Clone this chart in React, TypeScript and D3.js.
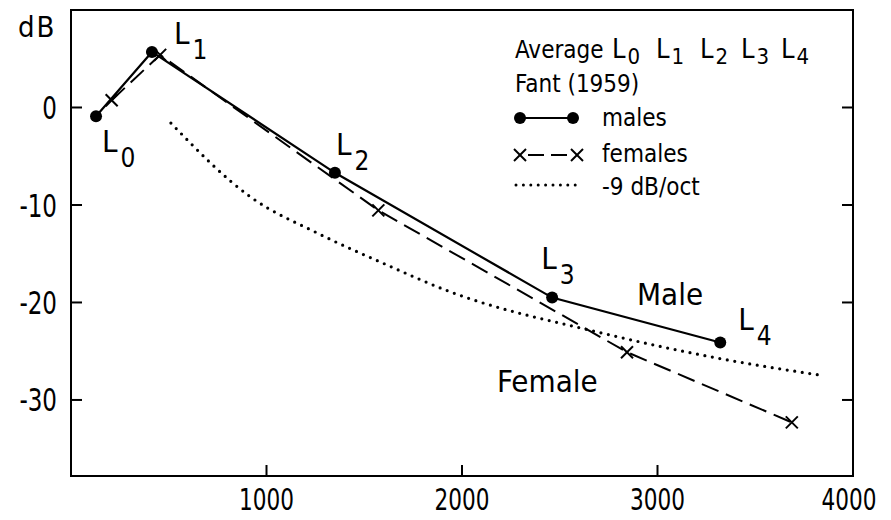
import React from "react";
import * as d3 from "d3";

// ---- data ----
const maleFreq = [128, 414, 1350, 2461, 3321];
const maleDb = [-0.9, 5.7, -6.7, -19.5, -24.1];
const femaleFreq = [208, 456, 1572, 2844, 3687];
const femaleDb = [0.75, 5.4, -10.55, -25.1, -32.3];
const slopeFreq = [511, 920, 1262, 1599, 1926, 2708, 3305, 3847];
const slopeDb = [-1.6, -9.2, -12.9, -16.0, -18.8, -23.1, -25.7, -27.5];
const levelNames = ["0", "1", "2", "3", "4"];
const xTicks = [1000, 2000, 3000, 4000];
const yTicks = [0, -10, -20, -30];

const W = 891;
const H = 520;
const L = 71, R = 853, T = 10, B = 476;

const TEXT_FONT = "'DejaVu Sans Condensed', 'DejaVu Sans', sans-serif";

// label offsets (px) relative to male points
const labelOffsets = [
  [6, 36],
  [22, -8],
  [1, -18],
  [-11, -29],
  [18, -12],
];

export default function App() {
  const x = d3.scaleLinear().domain([0, 4000]).range([L, R]);
  const y = d3.scaleLinear().domain([-37.8, 10]).range([B, T]);

  const male = maleFreq.map((f, i) => [x(f), y(maleDb[i])] as [number, number]);
  const female = femaleFreq.map((f, i) => [x(f), y(femaleDb[i])] as [number, number]);
  const slope = slopeFreq.map((f, i) => [x(f), y(slopeDb[i])] as [number, number]);

  const line = d3.line();
  const curve = d3.line().curve(d3.curveMonotoneX);

  const tick = 11;
  const cross = (cx: number, cy: number, k: string) => (
    <g key={k} stroke="#000" strokeWidth={2}>
      <line x1={cx - 6} y1={cy - 6} x2={cx + 6} y2={cy + 6} />
      <line x1={cx - 6} y1={cy + 6} x2={cx + 6} y2={cy - 6} />
    </g>
  );

  const legendX = 515;
  const legendLX = [612, 656, 700, 741, 781];

  return (
    <svg
      width={W}
      height={H}
      style={{ position: "absolute", left: 0, top: 0, background: "#fff" }}
      fontFamily={TEXT_FONT}
    >
      {/* frame */}
      <rect x={L} y={T} width={R - L} height={B - T} fill="none" stroke="#000" strokeWidth={2} />

      {/* y ticks left and right */}
      {yTicks.map((v) => (
        <g key={"yt" + v} stroke="#000" strokeWidth={2}>
          <line x1={L} x2={L + tick} y1={y(v)} y2={y(v)} />
          <line x1={R} x2={R - tick} y1={y(v)} y2={y(v)} />
        </g>
      ))}
      {yTicks.map((v) => (
        <text
          key={"yl" + v}
          transform={`translate(${L - 14},${y(v)}) scale(0.8,1)`}
          dy="0.36em"
          textAnchor="end"
          fontSize={32}
        >
          {v === 0 ? "0" : "-" + Math.abs(v)}
        </text>
      ))}
      {/* x ticks */}
      {xTicks
        .filter((v) => v < 4000)
        .map((v) => (
          <line key={"xt" + v} x1={x(v)} x2={x(v)} y1={B} y2={B - tick} stroke="#000" strokeWidth={2} />
        ))}
      {xTicks.map((v) => (
        <text
          key={"xl" + v}
          transform={`translate(${v === 4000 ? x(v) - 4 : x(v)},510) scale(0.8,1)`}
          textAnchor="middle"
          fontSize={30}
        >
          {v}
        </text>
      ))}
      <text x={18} y={37} fontSize={29} letterSpacing={2}>
        dB
      </text>

      {/* -9 dB/oct dotted curve */}
      <path
        d={curve(slope) || ""}
        fill="none"
        stroke="#000"
        strokeWidth={3.2}
        strokeLinecap="round"
        strokeDasharray="0 7.6"
      />

      {/* females dashed */}
      <path d={line(female) || ""} fill="none" stroke="#000" strokeWidth={2} strokeDasharray="18 8" />
      {female.map((p, i) => cross(p[0], p[1], "fx" + i))}

      {/* males solid */}
      <path d={line(male) || ""} fill="none" stroke="#000" strokeWidth={2.2} />
      {male.map((p, i) => (
        <circle key={"m" + i} cx={p[0]} cy={p[1]} r={6} fill="#000" />
      ))}

      {/* L labels */}
      {male.map((p, i) => (
        <text key={"lab" + i} x={p[0] + labelOffsets[i][0]} y={p[1] + labelOffsets[i][1]} fontSize={31}>
          L
          <tspan dx={3} dy={15} fontSize={26}>
            {levelNames[i]}
          </tspan>
        </text>
      ))}

      <text x={637} y={305} fontSize={31}>
        Male
      </text>
      <text x={497} y={392} fontSize={31}>
        Female
      </text>

      {/* legend */}
      <text x={legendX} y={58} fontSize={24}>
        Average
      </text>
      {legendLX.map((lx, i) => (
        <text key={"lg" + i} x={lx} y={58} fontSize={27}>
          L
          <tspan dx={2} dy={6} fontSize={22}>
            {levelNames[i]}
          </tspan>
        </text>
      ))}
      <text x={legendX} y={92} fontSize={24}>
        Fant (1959)
      </text>

      <line x1={520} x2={573} y1={118} y2={118} stroke="#000" strokeWidth={2} />
      <circle cx={520} cy={118} r={6} fill="#000" />
      <circle cx={573} cy={118} r={6} fill="#000" />
      <text x={602} y={126} fontSize={24}>
        males
      </text>

      {cross(520, 155, "lx1")}
      {cross(577, 155, "lx2")}
      <line x1={528} x2={569} y1={155} y2={155} stroke="#000" strokeWidth={2} strokeDasharray="16 7" />
      <text x={602} y={162} fontSize={24}>
        females
      </text>

      <line
        x1={516}
        x2={582}
        y1={185}
        y2={185}
        stroke="#000"
        strokeWidth={3}
        strokeLinecap="round"
        strokeDasharray="0 7.4"
      />
      <text x={602} y={195} fontSize={24}>
        -9 dB/oct
      </text>
    </svg>
  );
}
